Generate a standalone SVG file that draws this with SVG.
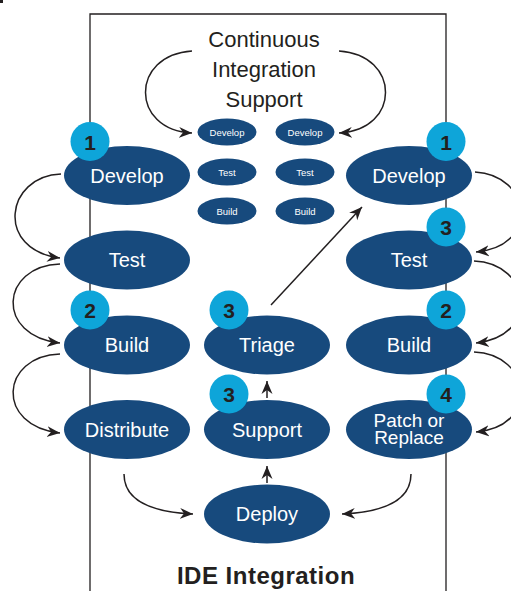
<svg xmlns="http://www.w3.org/2000/svg" width="511" height="591" viewBox="0 0 511 591">
  <style>
    .frame { fill: none; stroke: #231f20; stroke-width: 1.3; }
    .conn { fill: none; stroke: #231f20; stroke-width: 1.5; }
    .node { fill: #174a7d; }
    .lbl { fill: #ffffff; font-family: "Liberation Sans", Arial, sans-serif; font-size: 20px; text-anchor: middle; }
    .lbl2 { fill: #ffffff; font-family: "Liberation Sans", Arial, sans-serif; font-size: 19px; text-anchor: middle; }
    .sm { fill: #ffffff; font-family: "Liberation Sans", Arial, sans-serif; font-size: 9.5px; text-anchor: middle; }
    .badge { fill: #0ea5d9; }
    .num { fill: #231f20; font-family: "Liberation Sans", Arial, sans-serif; font-size: 21px; font-weight: bold; text-anchor: middle; }
    .title { fill: #231f20; font-family: "Liberation Sans", Arial, sans-serif; font-size: 22px; text-anchor: middle; }
    .foot { fill: #231f20; font-family: "Liberation Sans", Arial, sans-serif; font-size: 24px; font-weight: bold; letter-spacing: 0.5px; text-anchor: middle; }
  </style>
  <defs>
    <marker id="ah" markerUnits="userSpaceOnUse" markerWidth="14" markerHeight="12" refX="13" refY="6" orient="auto" viewBox="0 0 14 12">
      <path d="M0,0.5 L13,6 L0,11.5 L4,6 Z" fill="#231f20"/>
    </marker>
  </defs>

  <rect x="0" y="0" width="3" height="3" fill="#231f20"/>

  <!-- IDE integration frame, open at the bottom -->
  <path class="frame" d="M90,591 V14 H446 V591"/>

  <text class="title" x="264" y="47">Continuous</text>
  <text class="title" x="264" y="77">Integration</text>
  <text class="title" x="264" y="107">Support</text>

  <g id="connectors">
    <path class="conn" d="M192,51 C130,55 130,130 192,133" marker-end="url(#ah)"/>
    <path class="conn" d="M339,51 C401,55 401,130 339,133" marker-end="url(#ah)"/>
    <path class="conn" d="M61,174 C5,176 -5,250 60,258" marker-end="url(#ah)"/>
    <path class="conn" d="M60,264 C0,266 -5,336 60,343" marker-end="url(#ah)"/>
    <path class="conn" d="M60,354 C0,356 -5,426 60,433" marker-end="url(#ah)"/>
    <path class="conn" d="M475,172 C531,175 541,246 476,252" marker-end="url(#ah)"/>
    <path class="conn" d="M474,261 C531,263 541,336 476,343" marker-end="url(#ah)"/>
    <path class="conn" d="M474,352 C531,354 541,426 476,432" marker-end="url(#ah)"/>
    <path class="conn" d="M271,305 L362,207" marker-end="url(#ah)"/>
    <path class="conn" d="M267,398 L267,381" marker-end="url(#ah)"/>
    <path class="conn" d="M267,483 L267,466" marker-end="url(#ah)"/>
    <path class="conn" d="M124,474 C124,500 150,512 193,514" marker-end="url(#ah)"/>
    <path class="conn" d="M411,474 C411,500 385,512 342,514" marker-end="url(#ah)"/>
  </g>

  <!-- small CI nodes -->
  <g id="ci-develop-a"><ellipse class="node" cx="227" cy="132" rx="29.5" ry="13.5"/><text class="sm" x="227" y="135.5">Develop</text></g>
  <g id="ci-develop-b"><ellipse class="node" cx="305" cy="132" rx="29.5" ry="13.5"/><text class="sm" x="305" y="135.5">Develop</text></g>
  <g id="ci-test-a"><ellipse class="node" cx="227" cy="172" rx="29.5" ry="13.5"/><text class="sm" x="227" y="175.5">Test</text></g>
  <g id="ci-test-b"><ellipse class="node" cx="305" cy="172" rx="29.5" ry="13.5"/><text class="sm" x="305" y="175.5">Test</text></g>
  <g id="ci-build-a"><ellipse class="node" cx="227" cy="211" rx="29.5" ry="13.5"/><text class="sm" x="227" y="214.5">Build</text></g>
  <g id="ci-build-b"><ellipse class="node" cx="305" cy="211" rx="29.5" ry="13.5"/><text class="sm" x="305" y="214.5">Build</text></g>

  <!-- left column -->
  <g id="develop-left"><ellipse class="node" cx="127" cy="175.5" rx="63" ry="29.5"/><text class="lbl" x="127" y="183">Develop</text>
    <circle class="badge" cx="90" cy="141.5" r="19.5"/><text class="num" x="90" y="149.5">1</text></g>
  <g id="test-left"><ellipse class="node" cx="127" cy="260" rx="63" ry="29.5"/><text class="lbl" x="127" y="267">Test</text></g>
  <g id="build-left"><ellipse class="node" cx="127" cy="345" rx="63" ry="29.5"/><text class="lbl" x="127" y="352">Build</text>
    <circle class="badge" cx="90" cy="310" r="19.5"/><text class="num" x="90" y="318">2</text></g>
  <g id="distribute"><ellipse class="node" cx="127" cy="429.5" rx="63" ry="29.5"/><text class="lbl" x="127" y="436.5">Distribute</text></g>

  <!-- middle column -->
  <g id="triage"><ellipse class="node" cx="267" cy="345" rx="63" ry="29.5"/><text class="lbl" x="267" y="352">Triage</text>
    <circle class="badge" cx="229" cy="310" r="19.5"/><text class="num" x="229" y="318">3</text></g>
  <g id="support"><ellipse class="node" cx="267" cy="429.5" rx="63" ry="29.5"/><text class="lbl" x="267" y="436.5">Support</text>
    <circle class="badge" cx="229" cy="394" r="19.5"/><text class="num" x="229" y="402">3</text></g>
  <g id="deploy"><ellipse class="node" cx="267" cy="514" rx="63" ry="29.5"/><text class="lbl" x="267" y="521">Deploy</text></g>

  <!-- right column -->
  <g id="develop-right"><ellipse class="node" cx="409" cy="175.5" rx="63" ry="29.5"/><text class="lbl" x="409" y="183">Develop</text>
    <circle class="badge" cx="446" cy="141.5" r="19.5"/><text class="num" x="446" y="149.5">1</text></g>
  <g id="test-right"><ellipse class="node" cx="409" cy="260" rx="63" ry="29.5"/><text class="lbl" x="409" y="267">Test</text>
    <circle class="badge" cx="446" cy="227" r="19.5"/><text class="num" x="446" y="235">3</text></g>
  <g id="build-right"><ellipse class="node" cx="409" cy="345" rx="63" ry="29.5"/><text class="lbl" x="409" y="352">Build</text>
    <circle class="badge" cx="446" cy="310" r="19.5"/><text class="num" x="446" y="318">2</text></g>
  <g id="patch-replace"><ellipse class="node" cx="409" cy="429.5" rx="63" ry="29.5"/><text class="lbl2" x="409" y="427">Patch or</text><text class="lbl2" x="409" y="444">Replace</text>
    <circle class="badge" cx="446" cy="394" r="19.5"/><text class="num" x="446" y="402">4</text></g>

  <text class="foot" x="266" y="584">IDE Integration</text>
</svg>
